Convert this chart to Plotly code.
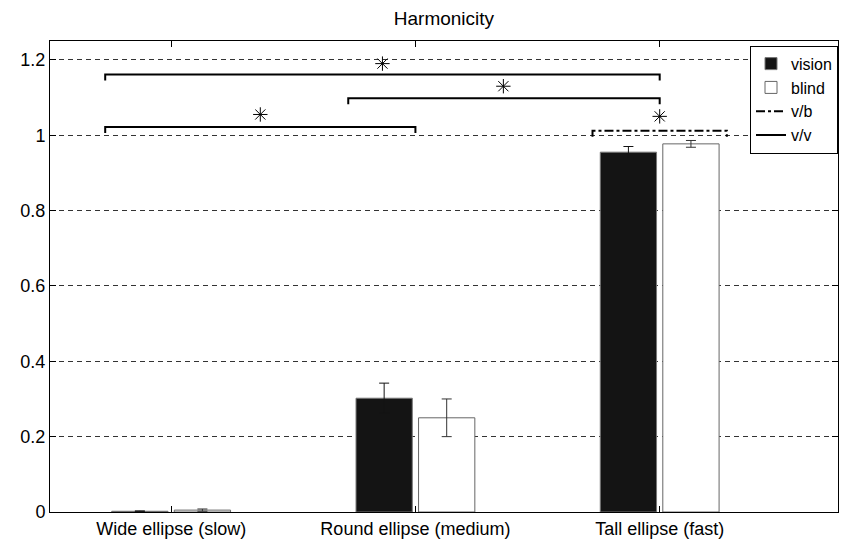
import plotly.graph_objects as go

categories = ["Wide ellipse (slow)", "Round ellipse (medium)", "Tall ellipse (fast)"]
vision = [0.002, 0.302, 0.955]
vision_err = [0.001, 0.04, 0.015]
blind = [0.005, 0.25, 0.977]
blind_err = [0.003, 0.05, 0.009]

# significance brackets: (x start, x end, y, style)
bracket_x0 = [-0.27, 0.725, -0.27, 1.725]
bracket_x1 = [2.0, 2.0, 1.0, 2.275]
bracket_y = [1.161, 1.098, 1.022, 1.012]
bracket_style = ["solid", "solid", "solid", "dashdot"]
star_x = [0.865, 1.36, 0.365, 2.0]
star_y = [1.19, 1.13, 1.055, 1.05]
tick_drop = 0.016

xpos = list(range(len(categories)))
FONT = "Liberation Sans, Arial, sans-serif"

fig = go.Figure()
fig.add_trace(go.Bar(
    x=xpos, y=vision, name="vision",
    marker=dict(color="#141414", line=dict(color="#777777", width=1)),
    error_y=dict(type="data", array=vision_err, color="#141414", thickness=1, width=5),
))
fig.add_trace(go.Bar(
    x=xpos, y=blind, name="blind",
    marker=dict(color="white", line=dict(color="#666666", width=1)),
    error_y=dict(type="data", array=blind_err, color="#333333", thickness=1, width=5),
))

order = sorted(range(len(bracket_style)), key=lambda i: 0 if bracket_style[i] == "dashdot" else 1)
shown = set()
for i in order:
    x0, x1, y, st = bracket_x0[i], bracket_x1[i], bracket_y[i], bracket_style[i]
    name = "v/b" if st == "dashdot" else "v/v"
    fig.add_trace(go.Scatter(
        x=[x0, x0, x1, x1], y=[y - tick_drop, y, y, y - tick_drop],
        mode="lines", name=name,
        line=dict(color="black", width=2, dash=st),
        showlegend=name not in shown, legendgroup=name,
    ))
    shown.add(name)

fig.add_trace(go.Scatter(
    x=star_x, y=star_y, mode="markers", showlegend=False,
    marker=dict(symbol="asterisk-open", size=12, color="black",
                line=dict(color="black", width=1)),
))

fig.update_layout(
    width=844, height=540,
    margin=dict(l=50, r=6, t=41, b=28),
    paper_bgcolor="white", plot_bgcolor="white",
    barmode="group", bargap=0.488, bargroupgap=0.1,
    title=dict(text="Harmonicity", x=0.526, xanchor="center", y=0.966, yanchor="middle",
               font=dict(family=FONT, size=19, color="black"), automargin=False),
    font=dict(family=FONT, size=18, color="black"),
    legend=dict(x=1, xanchor="right", y=0.99, yanchor="top",
                bordercolor="black", borderwidth=1, bgcolor="white",
                font=dict(family=FONT, size=16, color="black"),
                tracegroupgap=0, itemwidth=30),
    xaxis=dict(range=[-0.496, 2.73], tickvals=xpos, ticktext=categories,
               showgrid=False, zeroline=False, showline=True, linecolor="black",
               linewidth=1, mirror="ticks", ticks="inside", ticklen=6,
               tickcolor="black", tickfont=dict(size=18), automargin=False),
    yaxis=dict(range=[0, 1.25], tickvals=[0, 0.2, 0.4, 0.6, 0.8, 1, 1.2],
               ticktext=["0", "0.2", "0.4", "0.6", "0.8", "1", "1.2"],
               showgrid=True, gridcolor="#333333", gridwidth=1, griddash="5px,4px",
               zeroline=False, showline=True, linecolor="black", linewidth=1,
               mirror="ticks", ticks="inside", ticklen=6, tickcolor="black",
               tickfont=dict(size=18), automargin=False),
)

fig.write_html("out.html", config={"displayModeBar": False},
               post_script="document.body.style.margin='0px';")
